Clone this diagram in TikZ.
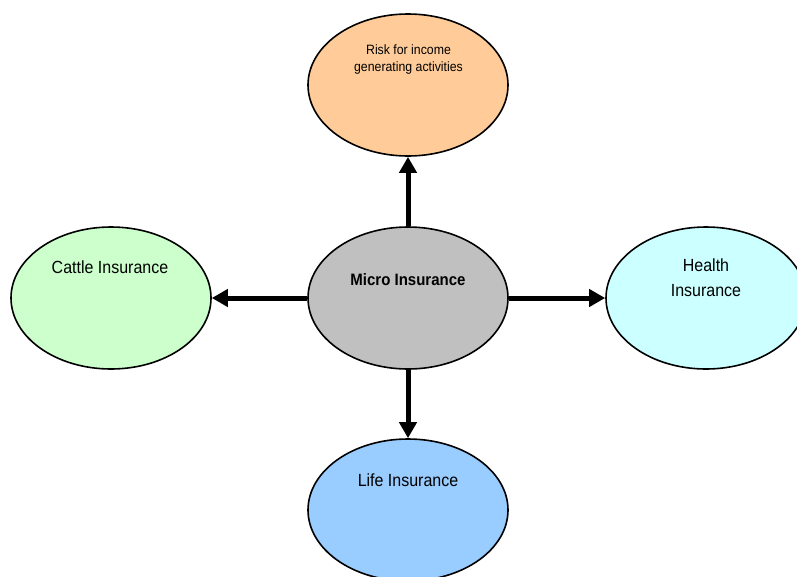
\documentclass[tikz,border=0pt]{standalone}
\usepackage{fontspec}
\setmainfont{Liberation Sans}
\usetikzlibrary{shapes.geometric,arrows.meta}
\definecolor{peach}{HTML}{FFCC99}
\definecolor{mint}{HTML}{CCFFCC}
\definecolor{aqua}{HTML}{CCFFFF}
\definecolor{sky}{HTML}{99CCFF}
\definecolor{midgray}{HTML}{C0C0C0}
\begin{document}
\begin{tikzpicture}[x=1pt,y=-1pt,
  oval/.style={ellipse,draw=black,line width=1.6pt,minimum width=200pt,minimum height=142pt,inner sep=0pt},
  txt/.style={align=center,font=\fontsize{16}{22.5}\selectfont,inner sep=0pt,yscale=1.1},
  smalltxt/.style={align=center,font=\fontsize{12.3}{15.5}\selectfont,inner sep=0pt,yscale=1.1},
  arr/.style={line width=5pt,-{Triangle[width=17pt,length=16pt]}}]
\useasboundingbox (0,0) rectangle (797,576);
\node[oval,fill=peach] (risk) at (408,85) {};
\node[oval,fill=midgray] (micro) at (408,298) {};
\node[oval,fill=mint] (cattle) at (111,298) {};
\node[oval,fill=aqua] (health) at (706,298) {};
\node[oval,fill=sky] (life) at (408,510) {};
\node[smalltxt] (riskT) at (408.5,59.5) {Risk for income\\generating activities};
\node[txt,font=\bfseries\fontsize{15}{18}\selectfont] (microT) at (408,280) {Micro Insurance};
\node[txt] (cattleT) at (110,267) {Cattle Insurance};
\node[txt] (healthT) at (706,277.5) {Health\\Insurance};
\node[txt] (lifeT) at (408,480) {Life Insurance};
\draw[arr] (micro) -- (risk);
\draw[arr] (micro) -- (cattle);
\draw[arr] (micro) -- (health);
\draw[arr] (micro) -- (life);
\end{tikzpicture}
\end{document}
